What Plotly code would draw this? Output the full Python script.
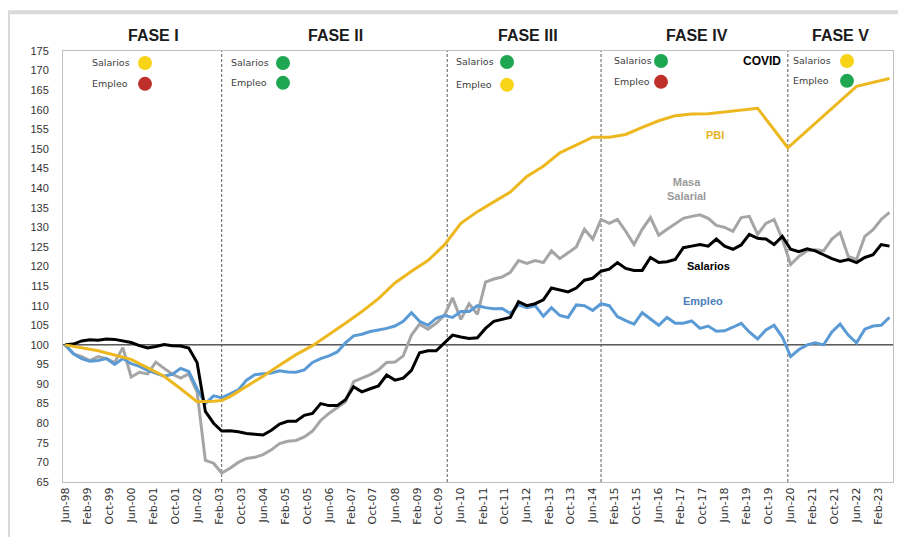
import pandas as pd
import plotly.graph_objects as go

# quarterly readings, Jun-98 .. Jun-23
fechas = pd.date_range('1998-06-01', '2023-06-01', freq='3MS')

salarios = [100, 100.2, 101, 101.3, 101.2, 101.5, 101.4, 101, 100.6, 99.8, 99.2, 99.6, 100.1, 99.8, 99.7, 99.2,
            95.5, 83, 80, 78, 78.1, 77.8, 77.4, 77.2, 77, 78.2, 79.8, 80.5, 80.5, 82, 82.5, 85,
            84.5, 84.5, 86, 89.3, 88, 88.8, 89.5, 92.3, 91, 91.5, 93.5, 98, 98.5, 98.5, 100.5, 102.5,
            102, 101.6, 101.8, 104.2, 106, 106.5, 107, 111, 110, 110.5, 111.5, 114.5, 114, 113.5, 114.5, 116.5,
            117, 118.8, 119.3, 121, 119.5, 119, 119, 122.3, 121, 121.2, 121.8, 124.8, 125.2, 125.6, 125.2, 127,
            125.2, 124.4, 125.5, 128.2, 127.2, 127, 125.6, 127.7, 124.4, 123.8, 124.5, 124, 123, 122, 121.3, 121.8,
            121, 122.3, 123, 125.6, 125.2]

masa_salarial = [100, 97.7, 97, 96, 97, 96.5, 95.5, 99.3, 91.8, 93, 92.6, 95.6, 94, 92.5, 91.5, 92.6,
                 88, 70.5, 69.8, 67.3, 68.5, 70, 71, 71.3, 72, 73.2, 74.8, 75.4, 75.6, 76.5, 78, 80.7,
                 82.5, 84, 85.5, 90.6, 91.5, 92.4, 93.6, 95.5, 95.6, 97.2, 102.5, 105.3, 104, 105.5, 107.5, 112,
                 106.5, 110.5, 107.8, 116, 116.8, 117.3, 118.5, 121.5, 120.8, 121.5, 121, 124, 122, 123.5, 125, 129.5,
                 127, 132, 131, 132, 129, 125.6, 129.5, 132.5, 128, 129.5, 131, 132.3, 132.8, 133.2, 132.3, 130.5,
                 130, 129, 132.5, 132.8, 128.2, 131, 132, 127, 120.5, 122.6, 124, 124.3, 124, 127, 128.7, 122.6,
                 121.8, 127.7, 129.4, 132, 133.8]

empleo = [100, 97.7, 96.5, 95.8, 96, 96.5, 95, 96.5, 95.2, 94.5, 93.5, 92.8, 92, 92.5, 94, 93.2,
          88.8, 85, 87, 86.5, 87.6, 88.5, 91, 92.4, 92.6, 92.8, 93.4, 93.1, 93, 93.6, 95.5, 96.5,
          97.2, 98.2, 100.5, 102.3, 102.7, 103.4, 103.8, 104.2, 104.8, 106, 108.2, 106, 105, 106.8, 107.5, 107,
          108.5, 108.5, 110, 109.5, 109.2, 109.3, 108, 110.2, 109.5, 110, 107.3, 109.5, 107.5, 107, 110.2, 110,
          108.8, 110.5, 110, 107.2, 106.2, 105.3, 108.2, 106.6, 105, 107, 105.5, 105.5, 106.1, 104.2, 104.8, 103.5,
          103.6, 104.5, 105.5, 103.3, 101.5, 103.8, 105, 102, 97, 98.8, 100, 100.5, 100, 103.3, 105.3, 102.5,
          100.5, 104, 104.8, 105, 107]

pbi_fechas = ['1998-06', '1999-06', '2000-06', '2001-06', '2001-12', '2002-06', '2002-12', '2003-03', '2003-06',
              '2003-12', '2004-06', '2004-12', '2005-06', '2005-12', '2006-06', '2006-12', '2007-06', '2007-12',
              '2008-06', '2008-12', '2009-06', '2009-12', '2010-06', '2010-12', '2011-06', '2011-12', '2012-06',
              '2012-12', '2013-06', '2013-12', '2014-06', '2014-12', '2015-06', '2015-12', '2016-06', '2016-12',
              '2017-06', '2017-12', '2018-06', '2018-12', '2019-06', '2020-05', '2022-06', '2023-06']
pbi = [100, 98.5, 96.3, 92, 88.8, 85.5, 85.6, 85.8, 86.8,
       89.3, 92, 94.8, 97.5, 99.8, 102.6, 105.5, 108.5, 111.8,
       115.8, 118.8, 121.5, 125.5, 131, 134, 136.5, 139, 143,
       145.6, 149, 151, 153, 153, 153.7, 155.5, 157.2, 158.5,
       158.9, 159, 159.5, 160, 160.4, 150.3, 166, 168]

cortes_fase = ['2003-03-01', '2010-01-01', '2014-09-01', '2020-05-01']
fases = ['FASE I', 'FASE II', 'FASE III', 'FASE IV', 'FASE V']
fase_x = [153, 335, 528, 697, 840]
# semáforo por fase: (salarios, empleo)
semaforo = [('#F7D417', '#C0302A'), ('#1FA650', '#1FA650'), ('#1FA650', '#F7D417'),
            ('#1FA650', '#C0302A'), ('#F7D417', '#1FA650')]
sem_x = [(90, 145), (229, 283), (454, 507), (612, 661), (791, 847)]
sem_y = [(63, 84), (63, 83), (62, 85), (61, 82), (61, 81)]

# page body has an 8px margin, so the figure is shrunk by that much
OFF = 8
W, H = 906 - OFF, 537 - OFF
L, R, T, B = 63, 893, 51, 484

def px(x):
    return (x - L) / (R - L)

def py(y):
    return (B - y) / (B - T)

fig = go.Figure()
fig.add_trace(go.Scatter(x=fechas, y=masa_salarial, mode='lines', name='Masa Salarial',
                         line=dict(color='#A5A5A5', width=3)))
fig.add_trace(go.Scatter(x=fechas, y=empleo, mode='lines', name='Empleo',
                         line=dict(color='#5B9BD5', width=3)))
fig.add_trace(go.Scatter(x=fechas, y=salarios, mode='lines', name='Salarios',
                         line=dict(color='black', width=3)))
fig.add_trace(go.Scatter(x=pd.to_datetime(pbi_fechas), y=pbi, mode='lines', name='PBI',
                         line=dict(color='#EDB81F', width=3)))

shapes = [dict(type='line', xref='paper', yref='y', x0=0, x1=1, y0=100, y1=100,
               line=dict(color='black', width=1), layer='below')]
for c in cortes_fase:
    shapes.append(dict(type='line', xref='x', yref='paper', x0=c, x1=c, y0=0, y1=1,
                       line=dict(color='#595959', width=1, dash='3px,2px'), layer='below'))
# marco exterior del gráfico
shapes.append(dict(type='rect', xref='paper', yref='paper', x0=px(8), x1=px(912), y0=py(560), y1=py(12),
                   line=dict(color='#D9D9D9', width=4), layer='below'))

anns = []
for nombre, xf in zip(fases, fase_x):
    anns.append(dict(text=f'<b>{nombre}</b>', x=px(xf), y=py(35), xref='paper', yref='paper',
                     xanchor='center', yanchor='middle', showarrow=False,
                     font=dict(family='Liberation Sans Narrow, Liberation Sans', size=16, color='#1a1a1a')))
for (c_sal, c_emp), (tx, cx), (ys, ye) in zip(semaforo, sem_x, sem_y):
    for lab, col, yy in [('Salarios', c_sal, ys), ('Empleo', c_emp, ye)]:
        anns.append(dict(text=lab, x=px(tx), y=py(yy), xref='paper', yref='paper', xanchor='left',
                         yanchor='middle', showarrow=False,
                         font=dict(family='DejaVu Sans', size=9.5, color='#404040')))
        shapes.append(dict(type='circle', xref='paper', yref='paper', xsizemode='pixel', ysizemode='pixel',
                           xanchor=px(cx), yanchor=py(yy), x0=-7, x1=7, y0=-7, y1=7,
                           fillcolor=col, line=dict(width=0)))

etiquetas = [('<b>PBI</b>', 715, 135, '#E6B422'), ('<b>Masa<br>Salarial</b>', 686, 190, '#9A9A9A'),
             ('<b>Salarios</b>', 708, 267, 'black'), ('<b>Empleo</b>', 703, 302, '#4A7EBB'),
             ('<b>COVID</b>', 762, 61, 'black')]
for txt, xx, yy, col in etiquetas:
    anns.append(dict(text=txt, x=px(xx), y=py(yy), xref='paper', yref='paper', showarrow=False,
                     xanchor='center', yanchor='middle',
                     font=dict(family='Liberation Sans', size=11 if 'COVID' not in txt else 12, color=col)))

fig.update_xaxes(type='date', range=['1998-05-08', '2023-07-10'], tick0='1998-06-01', dtick='M8',
                 tickformat='%b-%y', tickangle=-90, showgrid=False, showline=True, linecolor='#BFBFBF',
                 mirror=True, ticks='', tickfont=dict(family='DejaVu Sans', size=11, color='#333333'))
fig.update_yaxes(range=[65, 175], dtick=5, showgrid=False, zeroline=False, showline=True, linecolor='#BFBFBF',
                 mirror=True, ticks='', ticklabelstandoff=11,
                 tickfont=dict(family='Liberation Sans', size=11, color='#333333'))
fig.update_layout(width=W, height=H, margin=dict(l=L - OFF, r=906 - R, t=T - OFF, b=537 - B),
                  plot_bgcolor='white', paper_bgcolor='white', showlegend=False,
                  shapes=shapes, annotations=anns)
fig.write_html('out.html')
